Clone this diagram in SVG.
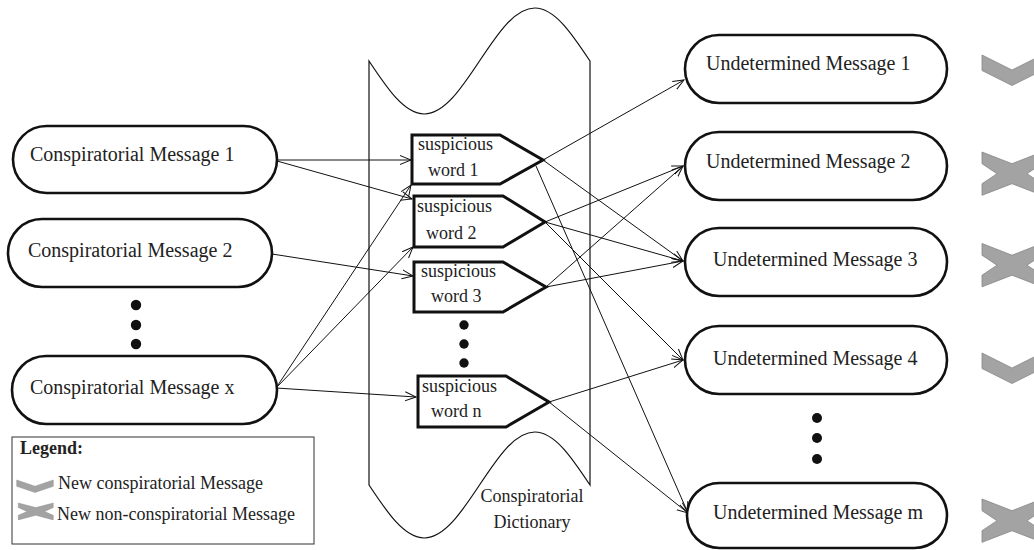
<svg xmlns="http://www.w3.org/2000/svg" width="1034" height="550" viewBox="0 0 1034 550">
<style>
text{font-family:"Liberation Serif","Times New Roman",serif;font-size:18px;fill:#222}
.msg{fill:#fff;stroke:#111;stroke-width:2.6}
.mt{font-size:20px}
.sw{fill:#fff;stroke:#111;stroke-width:3;stroke-linejoin:miter}
.con{stroke:#111;stroke-width:1;fill:none;marker-end:url(#ah)}
.dot{fill:#111}
.ic{fill:#a3a3a3;stroke:#858585;stroke-width:0.8}
</style>
<defs>
<marker id="ah" markerUnits="userSpaceOnUse" markerWidth="12" markerHeight="12" refX="11" refY="5" orient="auto" viewBox="0 0 12 10">
<path d="M0,0.5 L11,5 L0,9.5" fill="none" stroke="#111" stroke-width="1"/>
</marker>
<path id="chk" d="M0,0 L30,15 L60,0 L60,15.5 L30,30.5 L0,15.5 Z"/>
<path id="crs" d="M0,0 L30,11.7 L60,0 L60,11.7 L45,21.7 L60,31.7 L60,43.3 L30,31.7 L0,43.3 L0,31.7 L15,21.7 L0,11.7 Z"/>
</defs>
<rect width="1034" height="550" fill="#fff"/>

<g id="dictionary">
<path d="M369,61 C387.02,88.15 404.25,114 424.25,114 C444.25,114 461.48,88.15 479.5,61 C497.52,33.85 514.75,8 534.75,8 C554.75,8 571.98,33.85 590,61 L590,485 C571.98,457.85 554.75,432 534.75,432 C514.75,432 497.52,457.85 479.5,485 C461.48,512.15 444.25,538 424.25,538 C404.25,538 387.02,512.15 369,485 Z" fill="#fff" stroke="#111" stroke-width="1.2"/>
<text x="532" y="502" text-anchor="middle">Conspiratorial</text>
<text x="532" y="528" text-anchor="middle">Dictionary</text>
<circle class="dot" cx="464" cy="325" r="4.7"/>
<circle class="dot" cx="464" cy="344" r="4.7"/>
<circle class="dot" cx="464" cy="363" r="4.7"/>
</g>

<g id="connectors">
<path class="con" d="M277,160 L411,160"/>
<path class="con" d="M277,161 L412,199"/>
<path class="con" d="M272,254 L413,276"/>
<path class="con" d="M276,388 L411,185"/>
<path class="con" d="M276,388 L413,247"/>
<path class="con" d="M276,388 L416,397"/>
<path class="con" d="M543,160 L684,80"/>
<path class="con" d="M543,160 L683,261"/>
<path class="con" d="M536,166 L688,513"/>
<path class="con" d="M545,222 L683,166"/>
<path class="con" d="M545,222 L683,261"/>
<path class="con" d="M545,222 L683,360"/>
<path class="con" d="M546,287 L683,166"/>
<path class="con" d="M546,287 L683,261"/>
<path class="con" d="M549,402 L683,360"/>
<path class="con" d="M549,402 L688,513"/>
</g>

<g id="sw1"><path class="sw" d="M412,135 L500,135 L543,160 L500,184 L412,184 Z"/><text x="418" y="150">suspicious</text><text x="428" y="176">word 1</text></g>
<g id="sw2"><path class="sw" d="M414,196 L503,196 L545,222 L503,247 L414,247 Z"/><text x="417" y="212">suspicious</text><text x="426" y="239">word 2</text></g>
<g id="sw3"><path class="sw" d="M414,262 L503,262 L546,287 L503,312 L414,312 Z"/><text x="421" y="277">suspicious</text><text x="431" y="302">word 3</text></g>
<g id="swn"><path class="sw" d="M418,376 L506,376 L549,402 L506,427 L418,427 Z"/><text x="422" y="392">suspicious</text><text x="431" y="417">word n</text></g>

<g id="cm1"><rect class="msg" x="13" y="126" width="264" height="67" rx="33.5"/><text class="mt" x="30" y="161">Conspiratorial Message 1</text></g>
<g id="cm2"><rect class="msg" x="8" y="219" width="264" height="68" rx="34"/><text class="mt" x="28" y="257">Conspiratorial Message 2</text></g>
<g id="cmdots"><circle class="dot" cx="136" cy="305" r="5.2"/><circle class="dot" cx="136" cy="325" r="5.2"/><circle class="dot" cx="136" cy="344" r="5.2"/></g>
<g id="cmx"><rect class="msg" x="12" y="356" width="265" height="68" rx="34"/><text class="mt" x="30" y="394">Conspiratorial Message x</text></g>

<g id="um1"><rect class="msg" x="685" y="35" width="262" height="68" rx="34"/><text class="mt" x="706" y="70">Undetermined Message 1</text></g>
<g id="um2"><rect class="msg" x="685" y="132" width="262" height="68" rx="34"/><text class="mt" x="706" y="168">Undetermined Message 2</text></g>
<g id="um3"><rect class="msg" x="685" y="228" width="262" height="68" rx="34"/><text class="mt" x="713" y="266">Undetermined Message 3</text></g>
<g id="um4"><rect class="msg" x="685" y="326" width="262" height="68" rx="34"/><text class="mt" x="713" y="365">Undetermined Message 4</text></g>
<g id="umdots"><circle class="dot" cx="817" cy="418" r="5"/><circle class="dot" cx="817" cy="438" r="5"/><circle class="dot" cx="817" cy="459" r="5"/></g>
<g id="umm"><rect class="msg" x="687" y="483" width="260" height="65" rx="32.5"/><text class="mt" x="713" y="519">Undetermined Message m</text></g>

<g id="marks">
<use href="#chk" class="ic" transform="translate(982,55)"/>
<use href="#crs" class="ic" transform="translate(982,152)"/>
<use href="#crs" class="ic" transform="translate(982,243.5)"/>
<use href="#chk" class="ic" transform="translate(982,353)"/>
<use href="#crs" class="ic" transform="translate(982,499)"/>
</g>

<g id="legend">
<rect x="12" y="437" width="302" height="107" fill="#fff" stroke="#333" stroke-width="1"/>
<text x="20" y="454" font-weight="bold">Legend:</text>
<use href="#chk" class="ic" transform="translate(16.7,480) scale(0.61,0.41)"/>
<text x="58" y="489">New conspiratorial Message</text>
<use href="#crs" class="ic" transform="translate(18.3,503) scale(0.583,0.39)"/>
<text x="57" y="520">New non-conspiratorial Message</text>
</g>
</svg>
